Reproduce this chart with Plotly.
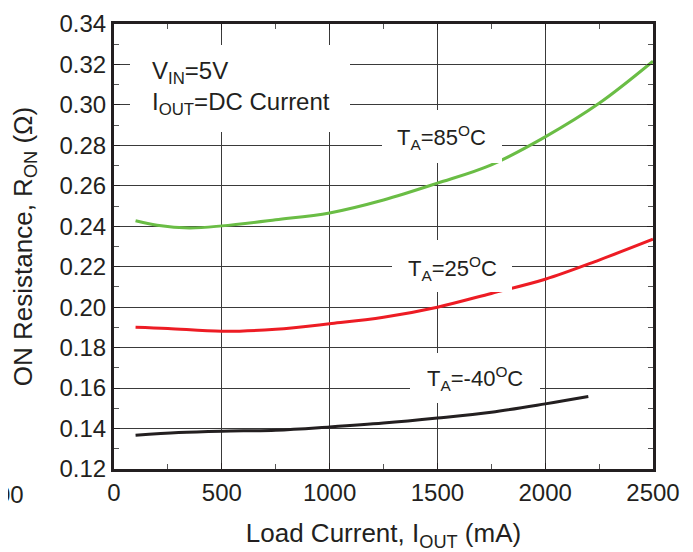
import plotly.graph_objects as go

# Load current (mA) and ON resistance (ohm)
x85 = [100, 200, 350, 500, 750, 1000, 1250, 1500, 1750, 2000, 2250, 2500]
r85 = [0.2427, 0.2405, 0.2392, 0.2402, 0.2432, 0.2466, 0.2530, 0.2613, 0.2704, 0.2842, 0.3008, 0.3216]

x25 = [100, 250, 500, 750, 1000, 1250, 1500, 1750, 2000, 2250, 2500]
r25 = [0.1901, 0.1895, 0.1881, 0.1891, 0.1918, 0.1950, 0.2000, 0.2068, 0.2138, 0.2233, 0.2336]

xm40 = [100, 300, 500, 750, 1000, 1250, 1500, 1750, 2000, 2200]
rm40 = [0.1367, 0.1380, 0.1387, 0.1392, 0.1408, 0.1427, 0.1452, 0.1481, 0.1522, 0.1558]

x_ticks = [0, 500, 1000, 1500, 2000, 2500]
y_ticks = [0.12, 0.14, 0.16, 0.18, 0.20, 0.22, 0.24, 0.26, 0.28, 0.30, 0.32, 0.34]

FONT = "Liberation Sans, Arial, sans-serif"
TXT = "#231f20"

fig = go.Figure()
fig.add_trace(go.Scatter(x=x85, y=r85, mode="lines", line=dict(color="#6abd45", width=3, shape="spline")))
fig.add_trace(go.Scatter(x=x25, y=r25, mode="lines", line=dict(color="#ed1c24", width=3, shape="spline")))
fig.add_trace(go.Scatter(x=xm40, y=rm40, mode="lines", line=dict(color="#231f20", width=3, shape="spline")))

# page pixel -> data helpers (page has an 8px body margin)
def px2x(p):
    return (p - 114) / 539 * 2500

def px2y(p):
    return 0.34 - (p - 24) / 445 * 0.22

# white label boxes (hide grid and curves beneath labels)
boxes = [(130, 350, 45, 132), (382, 502, 110, 163), (392, 512, 240, 292), (410, 540, 353, 403)]
for x0, x1, y0, y1 in boxes:
    fig.add_shape(type="rect", x0=px2x(x0), x1=px2x(x1), y0=px2y(y1), y1=px2y(y0),
                  fillcolor="white", line=dict(width=0), layer="above")

fig.add_annotation(x=px2x(150), y=px2y(88), xanchor="left", yanchor="middle", align="left",
                   text="V<sub>IN</sub>=5V<br>I<sub>OUT</sub>=DC Current", showarrow=False,
                   font=dict(family=FONT, size=24, color=TXT))
lab_font = dict(family=FONT, size=22, color=TXT)
fig.add_annotation(x=px2x(441), y=px2y(137), text="T<sub>A</sub>=85<sup>O</sup>C", showarrow=False, font=lab_font)
fig.add_annotation(x=px2x(452), y=px2y(268), text="T<sub>A</sub>=25<sup>O</sup>C", showarrow=False, font=lab_font)
fig.add_annotation(x=px2x(475), y=px2y(378), text="T<sub>A</sub>=-40<sup>O</sup>C", showarrow=False, font=lab_font)
# clipped neighbouring tick label at far left
fig.add_annotation(xref="paper", yref="paper", x=(18 - 106) / 539, y=-0.022, xanchor="right", yanchor="top",
                   text="00", showarrow=False, font=dict(family=FONT, size=24, color=TXT))

fig.update_layout(
    width=685, height=544,
    margin=dict(l=106, r=40, t=16, b=83, autoexpand=False),
    paper_bgcolor="white", plot_bgcolor="white",
    showlegend=False,
    font=dict(family=FONT, color=TXT),
)
fig.update_xaxes(
    range=[0, 2500], tickvals=x_ticks, ticktext=[str(v) for v in x_ticks],
    showgrid=True, gridcolor="#3a3a3a", gridwidth=1,
    showline=True, linecolor="#231f20", linewidth=3, mirror="ticks",
    ticks="inside", ticklen=6, tickcolor="#231f20", tickwidth=1,
    minor=dict(dtick=250, ticks="inside", ticklen=5, tickcolor="#555", showgrid=False),
    tickfont=dict(family=FONT, size=24, color=TXT),
    title=dict(text="Load Current, I<sub>OUT</sub> (mA)", font=dict(family=FONT, size=26, color=TXT), standoff=20),
    zeroline=False,
)
fig.update_yaxes(
    range=[0.12, 0.34], tickvals=y_ticks, ticktext=[f"{v:.2f}" for v in y_ticks],
    showgrid=True, gridcolor="#3a3a3a", gridwidth=1,
    showline=True, linecolor="#231f20", linewidth=3, mirror="ticks",
    ticks="inside", ticklen=6, tickcolor="#231f20", tickwidth=1,
    minor=dict(dtick=0.01, ticks="inside", ticklen=5, tickcolor="#555", showgrid=False),
    tickfont=dict(family=FONT, size=24, color=TXT),
    title=dict(text="ON Resistance, R<sub>ON</sub> (Ω)", font=dict(family=FONT, size=26, color=TXT), standoff=21),
    zeroline=False,
)

fig.write_html("out.html")
